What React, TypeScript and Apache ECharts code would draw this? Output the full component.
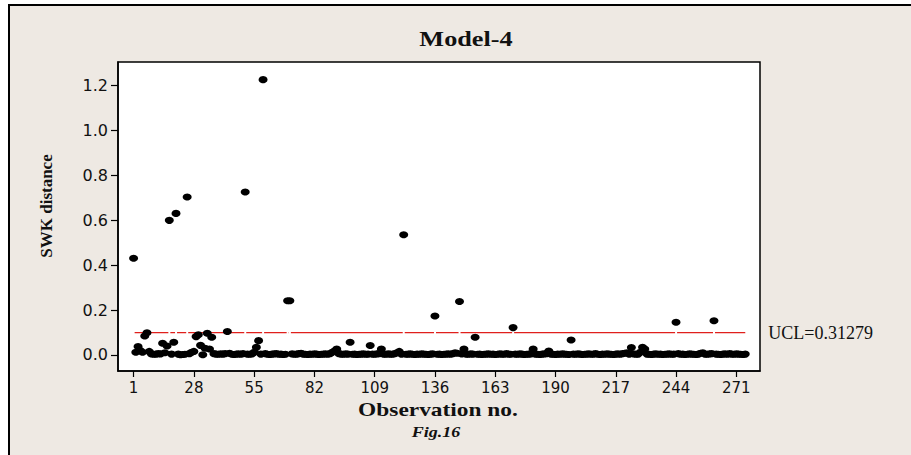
import React, { useEffect, useRef } from "react";
import * as echarts from "echarts";

// Observation no. 1..275 -> SWK distance
const swkValues: number[] = [
  0.431, 0.012, 0.038, 0.020, 0.012, 0.085, 0.099, 0.016, 0.005, 0.003,
  0.004, 0.006, 0.005, 0.052, 0.010, 0.040, 0.600, 0.004, 0.057, 0.631,
  0.004, 0.001, 0.002, 0.003, 0.704, 0.006, 0.012, 0.016, 0.082, 0.090,
  0.043, 0.001, 0.030, 0.097, 0.027, 0.079, 0.006, 0.004, 0.003, 0.005,
  0.004, 0.006, 0.105, 0.008, 0.003, 0.002, 0.004, 0.005, 0.003, 0.006,
  0.726, 0.004, 0.003, 0.005, 0.012, 0.034, 0.064, 0.004, 1.227, 0.006,
  0.003, 0.002, 0.004, 0.005, 0.006, 0.003, 0.004, 0.002, 0.003, 0.242,
  0.242, 0.005, 0.003, 0.004, 0.006, 0.008, 0.004, 0.003, 0.002, 0.004,
  0.003, 0.005, 0.004, 0.002, 0.003, 0.004, 0.005, 0.003, 0.006, 0.012,
  0.018, 0.027, 0.006, 0.004, 0.003, 0.005, 0.004, 0.057, 0.003, 0.004,
  0.002, 0.003, 0.004, 0.005, 0.003, 0.004, 0.042, 0.004, 0.003, 0.005,
  0.006, 0.027, 0.004, 0.003, 0.005, 0.004, 0.003, 0.006, 0.010, 0.016,
  0.004, 0.536, 0.003, 0.004, 0.005, 0.003, 0.002, 0.004, 0.003, 0.005,
  0.004, 0.003, 0.002, 0.004, 0.005, 0.174, 0.003, 0.004, 0.002, 0.003,
  0.004, 0.005, 0.003, 0.006, 0.010, 0.008, 0.238, 0.005, 0.027, 0.004,
  0.003, 0.005, 0.004, 0.079, 0.003, 0.004, 0.002, 0.003, 0.004, 0.005,
  0.003, 0.004, 0.002, 0.003, 0.005, 0.004, 0.003, 0.006, 0.004, 0.003,
  0.122, 0.004, 0.003, 0.005, 0.004, 0.002, 0.003, 0.004, 0.005, 0.027,
  0.004, 0.003, 0.002, 0.004, 0.005, 0.006, 0.018, 0.004, 0.003, 0.002,
  0.004, 0.003, 0.005, 0.004, 0.003, 0.002, 0.067, 0.004, 0.003, 0.005,
  0.004, 0.002, 0.003, 0.004, 0.005, 0.003, 0.004, 0.006, 0.003, 0.002,
  0.004, 0.003, 0.005, 0.004, 0.003, 0.002, 0.004, 0.005, 0.003, 0.006,
  0.008, 0.010, 0.004, 0.033, 0.005, 0.003, 0.004, 0.012, 0.034, 0.027,
  0.004, 0.003, 0.002, 0.004, 0.005, 0.003, 0.004, 0.002, 0.003, 0.004,
  0.005, 0.003, 0.004, 0.146, 0.006, 0.003, 0.004, 0.002, 0.003, 0.005,
  0.004, 0.003, 0.002, 0.004, 0.008, 0.010, 0.004, 0.003, 0.005, 0.006,
  0.153, 0.004, 0.003, 0.002, 0.004, 0.005, 0.003, 0.006, 0.004, 0.003,
  0.005, 0.004, 0.003, 0.002, 0.004,
];

const xTickValues: number[] = [1, 28, 55, 82, 109, 136, 163, 190, 217, 244, 271];
const yTickValues: number[] = [0, 0.2, 0.4, 0.6, 0.8, 1.0, 1.2];
const uclValue = 0.1;
const uclLabel = "UCL=0.31279";
const titleText = "Model-4";
const xAxisTitle = "Observation no.";
const yAxisTitle = "SWK distance";
const figCaption = "Fig.16";

const SERIF = '"Liberation Serif", "Times New Roman", serif';
const SANS = '"DejaVu Sans", Verdana, sans-serif';
const BEIGE = "#eee9e3";

export default function App() {
  const ref = useRef<HTMLDivElement>(null);

  useEffect(() => {
    if (!ref.current) return;
    const chart = echarts.init(ref.current, undefined, { renderer: "svg" });
    const points = swkValues.map((v, i) => [i + 1, v]);
    const lastObs = swkValues.length;
    const gaps = swkValues
      .map((v, i) => [i + 1, v] as [number, number])
      .filter(([, v]) => v > uclValue + 0.02)
      .map(([o]) => [o, uclValue]);

    chart.setOption({
      animation: false,
      backgroundColor: "transparent",
      grid: {
        left: 118,
        top: 62,
        right: 151,
        bottom: 84,
        show: true,
        backgroundColor: "#ffffff",
        borderColor: "#000000",
        borderWidth: 1.5,
      },
      xAxis: {
        type: "value",
        min: -6,
        max: 281.6,
        splitLine: { show: false },
        axisLine: { show: true, onZero: false, lineStyle: { color: "#000", width: 1.5 } },
        axisTick: {
          show: true,
          length: 6,
          customValues: xTickValues,
          lineStyle: { color: "#000", width: 1.2 },
        },
        axisLabel: {
          customValues: xTickValues,
          margin: 9,
          fontFamily: SANS,
          fontSize: 15,
          color: "#111",
        },
      },
      yAxis: {
        type: "value",
        min: -0.0713,
        max: 1.3056,
        splitLine: { show: false },
        axisLine: { show: true, onZero: false, lineStyle: { color: "#000", width: 1.5 } },
        axisTick: {
          show: true,
          length: 7,
          customValues: yTickValues,
          lineStyle: { color: "#000", width: 1.2 },
        },
        axisLabel: {
          customValues: yTickValues,
          margin: 10,
          fontFamily: SANS,
          fontSize: 16,
          color: "#111",
          formatter: (v: number) => v.toFixed(1),
        },
      },
      series: [
        {
          name: "UCL",
          type: "line",
          data: [
            [1, uclValue],
            [lastObs, uclValue],
          ],
          symbol: "none",
          z: 1,
          lineStyle: { color: "#e0201c", width: 1.3 },
          endLabel: {
            show: true,
            formatter: uclLabel,
            distance: 23,
            fontFamily: SERIF,
            fontSize: 18,
            color: "#111",
          },
          silent: true,
        },
        {
          name: "gaps",
          type: "scatter",
          data: gaps,
          symbol: "rect",
          symbolSize: [2, 4],
          itemStyle: { color: "#ffffff", opacity: 1 },
          z: 2,
          silent: true,
        },
        {
          name: "SWK distance",
          type: "scatter",
          data: points,
          symbol: "circle",
          symbolSize: [9, 7],
          itemStyle: { color: "#000000", opacity: 1 },
          z: 3,
        },
      ],
      graphic: [
        {
          type: "text",
          x: 466,
          y: 39,
          scaleX: 1.25,
          style: {
            text: titleText,
            font: `bold 21px ${SERIF}`,
            fill: "#111",
            textAlign: "center",
            textVerticalAlign: "middle",
          },
        },
        {
          type: "text",
          x: 438,
          y: 410,
          scaleX: 1.3,
          style: {
            text: xAxisTitle,
            font: `bold 18px ${SERIF}`,
            fill: "#111",
            textAlign: "center",
            textVerticalAlign: "middle",
          },
        },
        {
          type: "text",
          x: 436,
          y: 432,
          scaleX: 1.2,
          style: {
            text: figCaption,
            font: `italic bold 15px ${SERIF}`,
            fill: "#111",
            textAlign: "center",
            textVerticalAlign: "middle",
          },
        },
        {
          type: "text",
          x: 46,
          y: 206,
          rotation: Math.PI / 2,
          style: {
            text: yAxisTitle,
            font: `bold 17px ${SERIF}`,
            fill: "#111",
            textAlign: "center",
            textVerticalAlign: "middle",
          },
        },
      ],
    });
    return () => chart.dispose();
  }, []);

  return (
    <div
      style={{
        position: "fixed",
        left: 0,
        top: 0,
        width: 911,
        height: 455,
        background: BEIGE,
        overflow: "hidden",
      }}
    >
      <div style={{ position: "absolute", left: 0, top: 0, width: 911, height: 4, background: "#fff" }} />
      <div style={{ position: "absolute", left: 0, top: 0, width: 8, height: 455, background: "#fff" }} />
      <div style={{ position: "absolute", left: 8, top: 4, width: 903, height: 1.5, background: "#000" }} />
      <div style={{ position: "absolute", left: 8, top: 4, width: 1.5, height: 451, background: "#000" }} />
      <div ref={ref} style={{ position: "absolute", left: 0, top: 0, width: 911, height: 455 }} />
    </div>
  );
}
